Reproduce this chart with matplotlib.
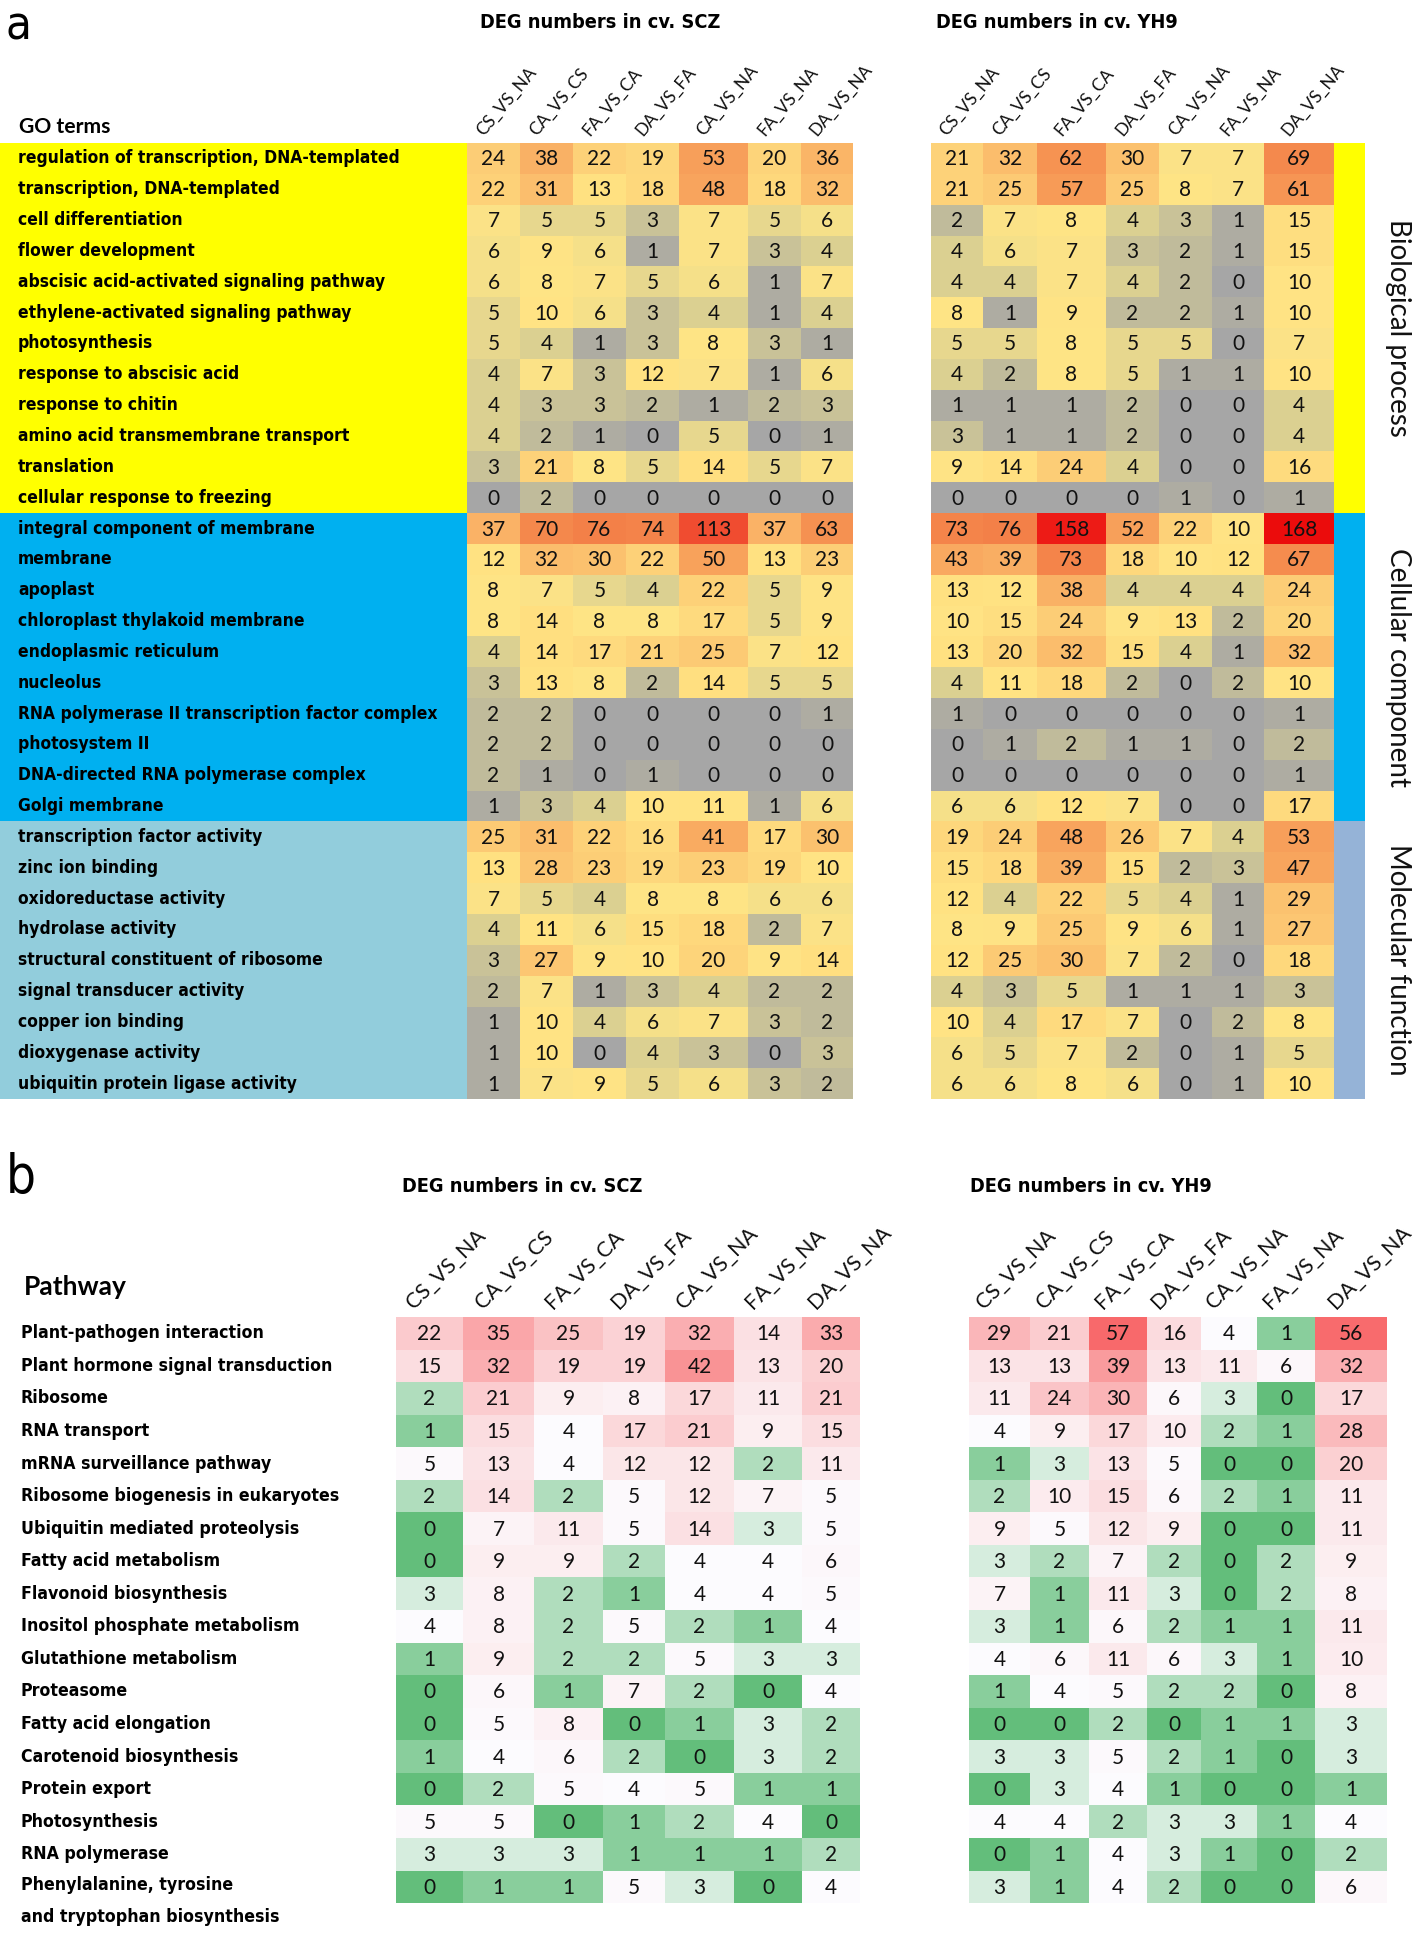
import numpy as np
import matplotlib
matplotlib.use("Agg")
import matplotlib.pyplot as plt
from matplotlib.colors import LinearSegmentedColormap, Normalize, TwoSlopeNorm
from matplotlib.patches import Rectangle
from matplotlib import font_manager as fm
from matplotlib.font_manager import FontProperties

# ---------------- data ----------------
comparisons = ["CS_VS_NA", "CA_VS_CS", "FA_VS_CA", "DA_VS_FA", "CA_VS_NA", "FA_VS_NA", "DA_VS_NA"]

go_bp = ["regulation of transcription, DNA-templated", "transcription, DNA-templated",
         "cell differentiation", "flower development", "abscisic acid-activated signaling pathway",
         "ethylene-activated signaling pathway", "photosynthesis", "response to abscisic acid",
         "response to chitin", "amino acid transmembrane transport", "translation",
         "cellular response to freezing"]
go_cc = ["integral component of membrane", "membrane", "apoplast", "chloroplast thylakoid membrane",
         "endoplasmic reticulum", "nucleolus", "RNA polymerase II transcription factor complex",
         "photosystem II", "DNA-directed RNA polymerase complex", "Golgi membrane"]
go_mf = ["transcription factor activity", "zinc ion binding", "oxidoreductase activity",
         "hydrolase activity", "structural constituent of ribosome", "signal transducer activity",
         "copper ion binding", "dioxygenase activity", "ubiquitin protein ligase activity"]
go_categories = ["Biological process", "Cellular component", "Molecular function"]

go_scz = [
    [24, 38, 22, 19, 53, 20, 36], [22, 31, 13, 18, 48, 18, 32], [7, 5, 5, 3, 7, 5, 6],
    [6, 9, 6, 1, 7, 3, 4], [6, 8, 7, 5, 6, 1, 7], [5, 10, 6, 3, 4, 1, 4], [5, 4, 1, 3, 8, 3, 1],
    [4, 7, 3, 12, 7, 1, 6], [4, 3, 3, 2, 1, 2, 3], [4, 2, 1, 0, 5, 0, 1], [3, 21, 8, 5, 14, 5, 7],
    [0, 2, 0, 0, 0, 0, 0],
    [37, 70, 76, 74, 113, 37, 63], [12, 32, 30, 22, 50, 13, 23], [8, 7, 5, 4, 22, 5, 9],
    [8, 14, 8, 8, 17, 5, 9], [4, 14, 17, 21, 25, 7, 12], [3, 13, 8, 2, 14, 5, 5],
    [2, 2, 0, 0, 0, 0, 1], [2, 2, 0, 0, 0, 0, 0], [2, 1, 0, 1, 0, 0, 0], [1, 3, 4, 10, 11, 1, 6],
    [25, 31, 22, 16, 41, 17, 30], [13, 28, 23, 19, 23, 19, 10], [7, 5, 4, 8, 8, 6, 6],
    [4, 11, 6, 15, 18, 2, 7], [3, 27, 9, 10, 20, 9, 14], [2, 7, 1, 3, 4, 2, 2],
    [1, 10, 4, 6, 7, 3, 2], [1, 10, 0, 4, 3, 0, 3], [1, 7, 9, 5, 6, 3, 2]]

go_yh9 = [
    [21, 32, 62, 30, 7, 7, 69], [21, 25, 57, 25, 8, 7, 61], [2, 7, 8, 4, 3, 1, 15],
    [4, 6, 7, 3, 2, 1, 15], [4, 4, 7, 4, 2, 0, 10], [8, 1, 9, 2, 2, 1, 10], [5, 5, 8, 5, 5, 0, 7],
    [4, 2, 8, 5, 1, 1, 10], [1, 1, 1, 2, 0, 0, 4], [3, 1, 1, 2, 0, 0, 4], [9, 14, 24, 4, 0, 0, 16],
    [0, 0, 0, 0, 1, 0, 1],
    [73, 76, 158, 52, 22, 10, 168], [43, 39, 73, 18, 10, 12, 67], [13, 12, 38, 4, 4, 4, 24],
    [10, 15, 24, 9, 13, 2, 20], [13, 20, 32, 15, 4, 1, 32], [4, 11, 18, 2, 0, 2, 10],
    [1, 0, 0, 0, 0, 0, 1], [0, 1, 2, 1, 1, 0, 2], [0, 0, 0, 0, 0, 0, 1], [6, 6, 12, 7, 0, 0, 17],
    [19, 24, 48, 26, 7, 4, 53], [15, 18, 39, 15, 2, 3, 47], [12, 4, 22, 5, 4, 1, 29],
    [8, 9, 25, 9, 6, 1, 27], [12, 25, 30, 7, 2, 0, 18], [4, 3, 5, 1, 1, 1, 3],
    [10, 4, 17, 7, 0, 2, 8], [6, 5, 7, 2, 0, 1, 5], [6, 6, 8, 6, 0, 1, 10]]

pathways = ["Plant-pathogen interaction", "Plant hormone signal transduction", "Ribosome",
            "RNA transport", "mRNA surveillance pathway", "Ribosome biogenesis in eukaryotes",
            "Ubiquitin mediated proteolysis", "Fatty acid metabolism", "Flavonoid biosynthesis",
            "Inositol phosphate metabolism", "Glutathione metabolism", "Proteasome",
            "Fatty acid elongation", "Carotenoid biosynthesis", "Protein export", "Photosynthesis",
            "RNA polymerase", "Phenylalanine, tyrosine\nand tryptophan biosynthesis"]

kegg_scz = [
    [22, 35, 25, 19, 32, 14, 33], [15, 32, 19, 19, 42, 13, 20], [2, 21, 9, 8, 17, 11, 21],
    [1, 15, 4, 17, 21, 9, 15], [5, 13, 4, 12, 12, 2, 11], [2, 14, 2, 5, 12, 7, 5],
    [0, 7, 11, 5, 14, 3, 5], [0, 9, 9, 2, 4, 4, 6], [3, 8, 2, 1, 4, 4, 5],
    [4, 8, 2, 5, 2, 1, 4], [1, 9, 2, 2, 5, 3, 3], [0, 6, 1, 7, 2, 0, 4],
    [0, 5, 8, 0, 1, 3, 2], [1, 4, 6, 2, 0, 3, 2], [0, 2, 5, 4, 5, 1, 1],
    [5, 5, 0, 1, 2, 4, 0], [3, 3, 3, 1, 1, 1, 2], [0, 1, 1, 5, 3, 0, 4]]

kegg_yh9 = [
    [29, 21, 57, 16, 4, 1, 56], [13, 13, 39, 13, 11, 6, 32], [11, 24, 30, 6, 3, 0, 17],
    [4, 9, 17, 10, 2, 1, 28], [1, 3, 13, 5, 0, 0, 20], [2, 10, 15, 6, 2, 1, 11],
    [9, 5, 12, 9, 0, 0, 11], [3, 2, 7, 2, 0, 2, 9], [7, 1, 11, 3, 0, 2, 8],
    [3, 1, 6, 2, 1, 1, 11], [4, 6, 11, 6, 3, 1, 10], [1, 4, 5, 2, 2, 0, 8],
    [0, 0, 2, 0, 1, 1, 3], [3, 3, 5, 2, 1, 0, 3], [0, 3, 4, 1, 0, 0, 1],
    [4, 4, 2, 3, 3, 1, 4], [0, 1, 4, 3, 1, 0, 2], [3, 1, 4, 2, 0, 0, 6]]

# ---------------- fonts ----------------
W, H = 1418, 1938
names = {f.name for f in fm.fontManager.ttflist}
NUMF = "Lato" if "Lato" in names else "DejaVu Sans"


def _is_cond(st):
    if isinstance(st, str):
        return "condensed" in st or "narrow" in st
    try:
        return float(st) < 500
    except Exception:
        return False


def _is_bold(w):
    if isinstance(w, str):
        return w in ("bold", "heavy", "black", "demibold", "semibold", "extra bold", "ultrabold")
    return w >= 600


cond_bold, cond_reg = {}, {}
for f in fm.fontManager.ttflist:
    if _is_cond(f.stretch) or "Narrow" in f.name or "Condensed" in f.name:
        if "italic" in str(f.style) or "oblique" in str(f.style):
            continue
        (cond_bold if _is_bold(f.weight) else cond_reg).setdefault(f.name, f.fname)

pref = ["Liberation Sans Narrow", "DejaVu Sans", "Roboto Condensed", "Open Sans Condensed"]


def pick(d):
    for p in pref:
        if p in d:
            return d[p]
    return next(iter(d.values())) if d else None


fb, fr = pick(cond_bold), pick(cond_reg)
HAS_COND = fb is not None
NB = FontProperties(fname=fb) if fb else FontProperties(family="Liberation Sans", weight="bold")
NR = FontProperties(fname=fr) if fr else FontProperties(family="Liberation Sans")

# ---------------- colour scales ----------------
go_max = 168.0
go_anchor_vals = [0, 1, 2, 3, 4, 5, 7, 12, 20, 30, 40, 55, 70, 113, 165, 168]
go_anchor_cols = [(166, 166, 166), (178, 175, 160), (192, 187, 155), (206, 198, 150),
                  (220, 208, 145), (238, 220, 140), (254, 228, 134), (255, 226, 130),
                  (253, 212, 122), (251, 192, 110), (249, 172, 98), (247, 157, 88),
                  (244, 136, 76), (240, 76, 48), (236, 20, 18), (235, 12, 12)]
go_cmap = LinearSegmentedColormap.from_list(
    "go", [(v / go_max, tuple(c / 255 for c in col)) for v, col in zip(go_anchor_vals, go_anchor_cols)])
go_norm = Normalize(0, go_max)

kegg_cmap = LinearSegmentedColormap.from_list("kegg", ["#63BE7B", "#FCFCFF", "#F8696B"])
kegg_norm = TwoSlopeNorm(vmin=0, vcenter=4, vmax=57)

fig = plt.figure(figsize=(W / 100, H / 100), dpi=100)
ax = fig.add_axes([0, 0, 1, 1])
ax.set_xlim(0, W)
ax.set_ylim(H, 0)
ax.axis("off")
renderer = fig.canvas.get_renderer()


def fit_size(texts, ref_text, target_w, max_fs=None):
    bb = ref_text.get_window_extent(renderer)
    fs = ref_text.get_fontsize() * target_w / bb.width
    if max_fs is not None:
        fs = min(fs, max_fs)
    for t in texts:
        t.set_fontsize(fs)


def heat(xedges, top, rh, vals, cmap, norm, fs):
    vals = np.array(vals, dtype=float)
    n = vals.shape[0]
    yedges = top + rh * np.arange(n + 1)
    ax.pcolormesh(np.array(xedges, float), yedges, vals, cmap=cmap, norm=norm,
                  shading="flat", antialiased=False, edgecolors="none")
    xc = (np.array(xedges[:-1]) + np.array(xedges[1:])) / 2
    yc = (yedges[:-1] + yedges[1:]) / 2
    for i in range(n):
        for j in range(vals.shape[1]):
            ax.text(xc[j], yc[i] + 1, str(int(vals[i, j])), ha="center", va="center",
                    fontsize=fs, family=NUMF, color="#111111")
    return xc, yc


def col_labels(xc, top, dx, dy, fs, rot):
    for x, lab in zip(xc, comparisons):
        ax.text(x + dx, top - dy, lab, rotation=rot, rotation_mode="anchor",
                ha="left", va="center", fontsize=fs, family=NUMF, color="#111111")


# ================= panel a =================
a_top, a_rh = 143.0, 30.84
a_scz_x = [467, 520, 573, 626, 679, 748, 801, 853]
a_yh9_x = [931, 983, 1037, 1106, 1159, 1212, 1264, 1334]
go_terms = go_bp + go_cc + go_mf
group_sizes = [len(go_bp), len(go_cc), len(go_mf)]
left_bg = ["#FFFF00", "#00B0F0", "#92CDDC"]
right_bg = ["#FFFF00", "#00B0F0", "#95B3D7"]

start = 0
for k, size in enumerate(group_sizes):
    y0 = a_top + start * a_rh
    ax.add_patch(Rectangle((0, y0), 467, size * a_rh, color=left_bg[k], lw=0))
    ax.add_patch(Rectangle((1334, y0), 31, size * a_rh, color=right_bg[k], lw=0))
    ax.text(1398, y0 + size * a_rh / 2, go_categories[k], rotation=-90, ha="center",
            va="center", fontsize=20, family=NUMF, color="#111111")
    start += size

xc1, yc = heat(a_scz_x, a_top, a_rh, go_scz, go_cmap, go_norm, 15)
xc2, _ = heat(a_yh9_x, a_top, a_rh, go_yh9, go_cmap, go_norm, 15)
a_labels = [ax.text(18, y, t, ha="left", va="center", fontsize=14, fontproperties=NB,
                    color="#000000") for y, t in zip(yc, go_terms)]
fit_size(a_labels, a_labels[0], 384)

col_labels(xc1, a_top, -14, 10, 12.5, 50)
col_labels(xc2, a_top, -14, 10, 12.5, 50)
ax.text(19, 127, "GO terms", ha="left", va="center", fontsize=15.2, family=NUMF, fontweight="bold")
ta1 = ax.text(480, 22, "DEG numbers in cv. SCZ", ha="left", va="center", fontsize=16, fontproperties=NB)
ta2 = ax.text(936, 22, "DEG numbers in cv. YH9", ha="left", va="center", fontsize=16, fontproperties=NB)
fit_size([ta1, ta2], ta1, 241, None if HAS_COND else 20)
ax.text(6, 4, "a", ha="left", va="top", fontsize=34, fontproperties=NR)

# ================= panel b =================
b_top, b_rh = 1317.0, 32.56
b_scz_x = [396, 463, 534, 603, 665, 734, 802, 860]
b_yh9_x = [969, 1030, 1089, 1147, 1201, 1257, 1315, 1387]
xb1, ybc = heat(b_scz_x, b_top, b_rh, kegg_scz, kegg_cmap, kegg_norm, 15)
xb2, _ = heat(b_yh9_x, b_top, b_rh, kegg_yh9, kegg_cmap, kegg_norm, 15)
b_labels = []
for y, t in zip(ybc, pathways):
    if "\n" in t:
        b_labels.append(ax.text(21, y - 11, t, ha="left", va="top", fontsize=14,
                                fontproperties=NB, linespacing=2.05))
    else:
        b_labels.append(ax.text(21, y, t, ha="left", va="center", fontsize=14,
                                fontproperties=NB))
fit_size(b_labels, b_labels[1], 313)
col_labels(xb1, b_top, -20, 12, 15.5, 45)
col_labels(xb2, b_top, -20, 12, 15.5, 45)
ax.text(24, 1287, "Pathway", ha="left", va="center", fontsize=19, family=NUMF, fontweight="bold")
tb1 = ax.text(402, 1187, "DEG numbers in cv. SCZ", ha="left", va="center", fontsize=16, fontproperties=NB)
tb2 = ax.text(970, 1187, "DEG numbers in cv. YH9", ha="left", va="center", fontsize=16, fontproperties=NB)
fit_size([tb1, tb2], tb1, 241, None if HAS_COND else 20)
ax.text(6, 1193, "b", ha="left", va="baseline", fontsize=38, fontproperties=NR)

fig.savefig("out.png", dpi=100, facecolor="white")
